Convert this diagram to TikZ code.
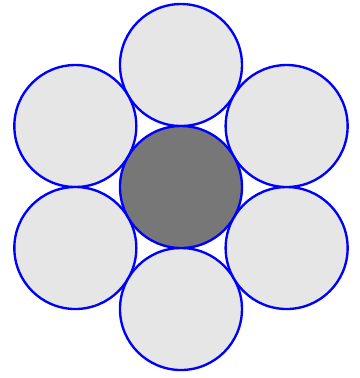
\documentclass[tikz,border=0pt]{standalone}
\usepackage{tikz}
\tikzstyle{wire}=[shape=circle, minimum size=2cm, inner sep=0, draw=blue, line width=1.1pt, fill={rgb,255:red,230;green,230;blue,230}]
\tikzstyle{core}=[wire, fill={rgb,255:red,119;green,119;blue,119}]

\begin{document}
\begin{tikzpicture}
\useasboundingbox (-2.967,-3.131) rectangle (2.934,3.066);
\foreach \x in {1,2,3,4,5,6}{\draw  (30+360/6*\x:2cm)  node[wire](w\x){};}
\node[core](c) at (0,0){};
\end{tikzpicture}
\end{document}
